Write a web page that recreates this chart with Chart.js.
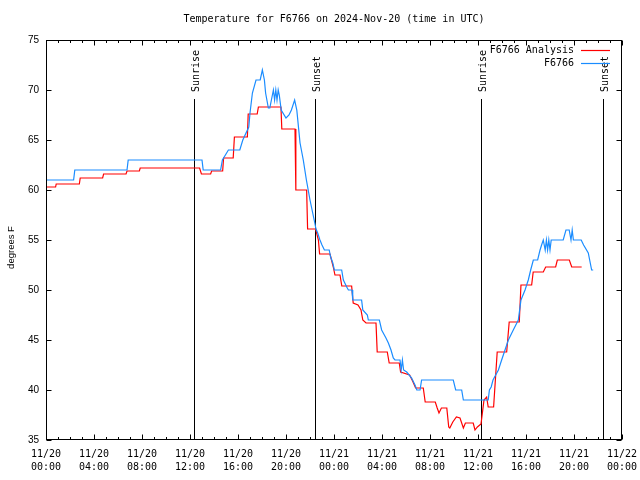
<!DOCTYPE html>
<html>
<head>
<meta charset="utf-8">
<script src="https://cdn.jsdelivr.net/npm/chart.js@4"></script>
<style>
  html, body { margin: 0; padding: 0; background: #fff; }
  #wrap { width: 640px; height: 480px; position: relative; }
</style>
</head>
<body>
<div id="wrap"><canvas id="chart"></canvas></div>
<script>
// x values are hours since 2024-11-20 00:00 UTC
const xTickDates = ['11/20', '11/20', '11/20', '11/20', '11/20', '11/20',
  '11/21', '11/21', '11/21', '11/21', '11/21', '11/21', '11/22'];
const xTickTimes = ['00:00', '04:00', '08:00', '12:00', '16:00', '20:00',
  '00:00', '04:00', '08:00', '12:00', '16:00', '20:00', '00:00'];

const analysisHours = [0, 0.8, 0.85, 2.78, 2.85, 4.72, 4.8, 6.67, 6.75, 7.78, 7.85, 12.8, 12.95,
  13.72, 13.8, 14.72, 14.8, 15.6, 15.7, 16.78, 16.85, 17.6, 17.7, 19.58, 19.65, 20.75, 20.82,
  21.72, 21.8, 22.47, 22.7, 22.8, 23.67, 23.75, 23.94, 24.08, 24.5, 24.65, 25.47, 25.6, 26.0,
  26.25, 26.4, 26.67, 27.5, 27.6, 28.44, 28.6, 29.44, 29.55, 30.3, 30.55, 30.8, 31.44, 31.6,
  32.44, 32.6, 32.75, 32.95, 33.4, 33.56, 33.65, 33.9, 34.2, 34.5, 34.78, 34.95, 35.6, 35.75,
  35.95, 36.25, 36.5, 36.72, 36.85, 37.3, 37.6, 38.39, 38.6, 39.44, 39.58, 40.47, 40.6, 41.44,
  41.64, 42.47, 42.61, 43.61, 43.81, 44.64];
const analysisTemps = [60.3, 60.3, 60.6, 60.6, 61.2, 61.2, 61.6, 61.6, 61.9, 61.9, 62.2, 62.2, 61.6,
  61.6, 61.9, 61.9, 63.2, 63.2, 65.3, 65.3, 67.6, 67.6, 68.3, 68.3, 66.1, 66.1, 60.0,
  60.0, 56.1, 56.1, 55.0, 53.6, 53.6, 53.2, 52.3, 51.5, 51.5, 50.4, 50.4, 48.7, 48.5,
  48.0, 47.0, 46.7, 46.7, 43.8, 43.8, 42.7, 42.7, 41.8, 41.5, 40.9, 40.2, 40.2, 38.8,
  38.8, 38.2, 37.7, 38.2, 38.2, 36.3, 36.2, 36.8, 37.3, 37.2, 36.2, 36.7, 36.7, 36.0,
  36.3, 36.6, 39.0, 39.3, 38.3, 38.3, 43.8, 43.8, 46.8, 46.8, 50.5, 50.5, 51.8, 51.8,
  52.3, 52.3, 53.0, 53.0, 52.3, 52.3];

const obsHours = [0, 2.3, 2.4, 6.75, 6.85, 13.0, 13.1, 14.55, 14.7, 15.2, 16.15, 16.4, 16.9, 17.0,
  17.2, 17.5, 17.85, 18.03, 18.2, 18.3, 18.53, 18.65, 18.95, 19.05, 19.15, 19.25, 19.35, 19.44,
  19.6, 20.0, 20.25, 20.45, 20.72, 20.9, 21.17, 21.44, 21.7, 22.0, 22.4, 22.5, 22.64, 22.83,
  23.0, 23.2, 23.6, 23.72, 23.9, 24.03, 24.64, 24.78, 25.06, 25.2, 25.5, 25.56, 26.3, 26.4,
  26.78, 26.86, 27.78, 27.97, 28.33, 28.53, 28.75, 28.94, 29.08, 29.5, 29.6, 29.7, 29.8, 30.06,
  30.47, 30.75, 30.9, 31.17, 31.3, 33.94, 34.14, 34.64, 34.78, 36.85, 36.95, 37.1, 37.25, 37.7,
  37.97, 38.25, 38.53, 38.94, 39.36, 39.58, 39.92, 40.19, 40.39, 40.61, 40.97, 41.17, 41.3,
  41.44, 41.6, 41.7, 41.8, 41.9, 42.0, 42.1, 43.1, 43.33, 43.6, 43.75, 43.85, 43.95, 44.6,
  44.8, 45.19, 45.47, 45.6];
const obsTemps = [61, 61, 62, 62, 63, 63, 62, 62, 63, 64, 64, 65, 66.3, 67.7,
  69.7, 71, 71, 72, 71, 69.7, 68.2, 68.2, 70, 69, 70, 69, 70, 69.5,
  68, 67.2, 67.5, 68, 69, 68, 64.7, 63, 61, 59, 56.7, 56.1, 55.7, 55,
  54.5, 54, 54, 53.3, 52.7, 52, 52, 51, 50.3, 50, 50, 49, 49, 48,
  47.5, 47, 47, 46, 45.2, 44.7, 44, 43.2, 43, 43, 42, 43, 42, 41.8,
  41.2, 40.5, 40, 40, 41, 41, 40, 40, 39, 39, 40, 40.3, 41, 42,
  43, 44, 45, 46, 47, 49, 50, 51, 52, 53, 53, 54, 54.5,
  55, 54, 55, 54, 55, 54, 55, 55, 56, 56, 55, 56, 55, 55,
  54.5, 53.7, 52, 52];

const sunHours = [12.36, 22.44, 36.28, 46.39];
const sunLabels = ['Sunrise', 'Sunset', 'Sunrise', 'Sunset'];

const monoFont = '"DejaVu Sans Mono", "Liberation Mono", monospace';
const sansFont = '"Liberation Sans", Arial, sans-serif';

const toPoints = (xs, ys) => xs.map((h, i) => ({ x: h, y: ys[i] }));

// gnuplot look: inward ticks, full frame, sunrise/sunset markers, legend text-then-sample
const gnuplotFrame = {
  id: 'gnuplotFrame',
  beforeDatasetsDraw(chart) {
    const { ctx, chartArea: a, scales: { x } } = chart;
    ctx.save();
    ctx.strokeStyle = '#000';
    ctx.fillStyle = '#000';
    ctx.lineWidth = 1;
    ctx.font = '10px ' + monoFont;
    ctx.textAlign = 'left';
    ctx.textBaseline = 'middle';
    sunHours.forEach((h, i) => {
      const px = Math.round(x.getPixelForValue(h)) + 0.5;
      ctx.beginPath();
      ctx.moveTo(px, a.bottom);
      ctx.lineTo(px, a.top + 59);
      ctx.stroke();
      ctx.save();
      ctx.translate(px + 2, a.top + 52);
      ctx.rotate(-Math.PI / 2);
      ctx.fillText(sunLabels[i], 0, 0);
      ctx.restore();
    });
    ctx.restore();
  },
  afterDatasetsDraw(chart) {
    const { ctx, chartArea: a, scales: { x, y } } = chart;
    ctx.save();
    ctx.strokeStyle = '#000';
    ctx.lineWidth = 1;
    const L = Math.round(a.left) + 0.5, R = Math.round(a.right) - 0.5;
    const T = Math.round(a.top) + 0.5, B = Math.round(a.bottom) - 0.5;
    ctx.strokeRect(L, T, R - L, B - T);

    ctx.beginPath();
    for (let h = 0; h <= 48; h++) {
      const px = Math.round(x.getPixelForValue(h)) + 0.5;
      const len = h % 4 === 0 ? 5 : 2.5;
      ctx.moveTo(px, B); ctx.lineTo(px, B - len);
      ctx.moveTo(px, T); ctx.lineTo(px, T + len);
    }
    for (let v = 35; v <= 75; v += 5) {
      const py = Math.round(y.getPixelForValue(v)) + 0.5;
      ctx.moveTo(L, py); ctx.lineTo(L + 5, py);
      ctx.moveTo(R, py); ctx.lineTo(R - 5, py);
    }
    ctx.stroke();

    // legend
    ctx.font = '10px ' + monoFont;
    ctx.textAlign = 'right';
    ctx.textBaseline = 'middle';
    ctx.fillStyle = '#000';
    chart.data.datasets.forEach((ds, i) => {
      const ly = Math.round(a.top + 10 + i * 12.7) + 0.5;
      ctx.fillText(ds.label, a.right - 48, ly);
      ctx.strokeStyle = ds.borderColor;
      ctx.lineWidth = 1.2;
      ctx.beginPath();
      ctx.moveTo(a.right - 41, ly);
      ctx.lineTo(a.right - 12, ly);
      ctx.stroke();
    });

    // y axis title
    ctx.font = '9.5px ' + sansFont;
    ctx.textAlign = 'center';
    ctx.translate(11, 247.5);
    ctx.rotate(-Math.PI / 2);
    ctx.fillText('degrees F', 0, 0);
    ctx.restore();
  }
};

Chart.defaults.font.family = monoFont;
Chart.defaults.color = '#000';

new Chart(document.getElementById('chart'), {
  type: 'line',
  data: {
    datasets: [
      {
        label: 'F6766 Analysis',
        data: toPoints(analysisHours, analysisTemps),
        borderColor: '#ff0000',
        borderWidth: 1.2,
        pointRadius: 0,
        tension: 0,
        order: 2
      },
      {
        label: 'F6766',
        data: toPoints(obsHours, obsTemps),
        borderColor: '#1a8cff',
        borderWidth: 1.2,
        pointRadius: 0,
        tension: 0,
        order: 1
      }
    ]
  },
  options: {
    responsive: true,
    maintainAspectRatio: false,
    animation: false,
    layout: { padding: { top: 0, right: 18, bottom: 0, left: 0 } },
    plugins: {
      legend: { display: false },
      tooltip: { enabled: false },
      title: {
        display: true,
        text: 'Temperature for F6766 on 2024-Nov-20 (time in UTC)',
        fullSize: false,
        color: '#000',
        font: { family: monoFont, size: 10, weight: 'normal', lineHeight: 1.2 },
        padding: { top: 13, bottom: 15 }
      }
    },
    scales: {
      x: {
        type: 'linear',
        min: 0,
        max: 48,
        grid: { display: false, drawTicks: false },
        border: { display: false },
        afterFit: (scale) => {
          scale.height = 40;
          scale.paddingLeft = 0;
          scale.paddingRight = 0;
        },
        ticks: {
          stepSize: 4,
          autoSkip: false,
          maxRotation: 0,
          padding: 7.5,
          font: { family: monoFont, size: 10, lineHeight: 1.3 },
          callback: (v, i) => [xTickDates[i], xTickTimes[i]]
        }
      },
      y: {
        min: 35,
        max: 75,
        grid: { display: false, drawTicks: false },
        border: { display: false },
        afterFit: (scale) => {
          scale.width = 46;
          scale.paddingTop = 0;
          scale.paddingBottom = 0;
        },
        ticks: {
          stepSize: 5,
          padding: 7,
          font: { family: sansFont, size: 10 }
        }
      }
    }
  },
  plugins: [gnuplotFrame]
});
</script>
</body>
</html>
